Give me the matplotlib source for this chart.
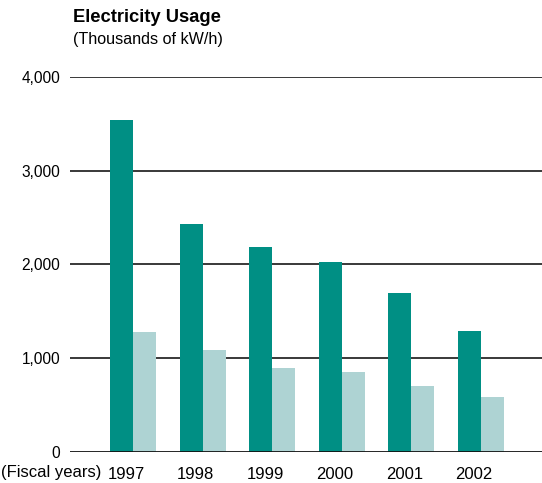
import matplotlib.pyplot as plt
import numpy as np

plt.rcParams['font.family'] = ['Liberation Sans', 'DejaVu Sans']

years = ["1997", "1998", "1999", "2000", "2001", "2002"]
usage_dark = [3544, 2433, 2187, 2027, 1696, 1290]
usage_light = [1282, 1087, 894, 852, 701, 585]

dark = "#008f84"
light = "#aed3d3"

fig = plt.figure(figsize=(5.42, 4.83), dpi=100)
ax = fig.add_axes([0.129, 0.0648, 0.871, 0.7758])

x = np.arange(len(years))
w = 0.33
ax.bar(x - w / 2, usage_dark, w, color=dark, zorder=1)
ax.bar(x + w / 2, usage_light, w, color=light, zorder=1)

for v in [1000, 2000, 3000, 4000]:
    ax.axhline(v, color="#2a2a2a", lw=1.3, zorder=0)
ax.axhline(0, color="#111111", lw=2.0, zorder=2)

ax.set_xlim(-0.905, 5.876)
ax.set_ylim(0, 4000)
ax.set_yticks([0, 1000, 2000, 3000, 4000])
ax.set_yticklabels(["0", "1,000", "2,000", "3,000", "4,000"], fontsize=11.2)
ax.set_xticks(x - 0.1)
ax.set_xticklabels(years, fontsize=12)
ax.tick_params(axis="y", length=0, pad=7)
ax.tick_params(axis="x", length=0, pad=11)
for s in ax.spines.values():
    s.set_visible(False)

fig.text(0.135, 0.954, "Electricity Usage", fontsize=13.2, fontweight="bold")
fig.text(0.135, 0.909, "(Thousands of kW/h)", fontsize=11.6)
fig.text(0.002, 0.012, "(Fiscal years)", fontsize=12)

fig.savefig("out.png", dpi=100)
